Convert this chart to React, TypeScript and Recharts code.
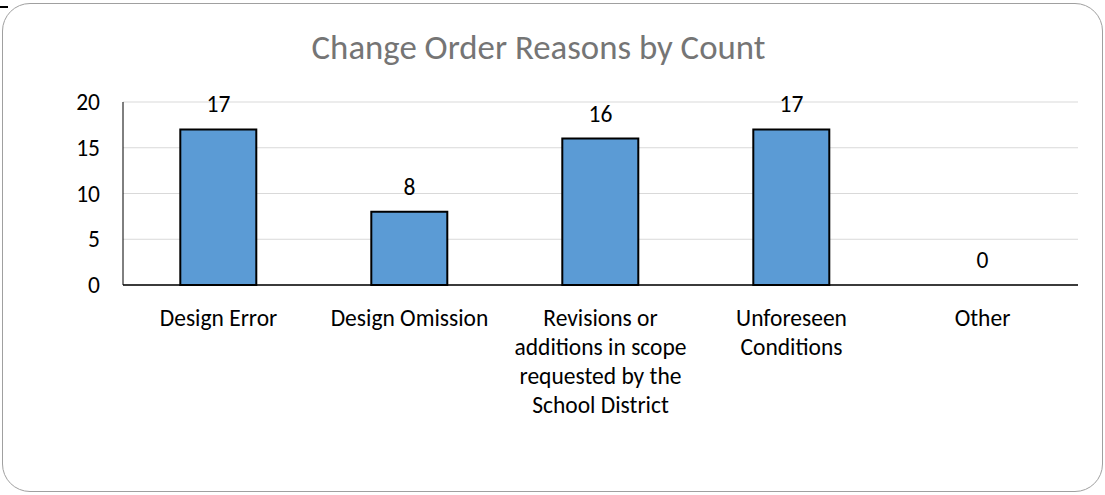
import React from "react";
import { ComposedChart, Bar, Line, XAxis, YAxis, CartesianGrid, LabelList } from "recharts";

const categories = [
  "Design Error",
  "Design Omission",
  "Revisions or additions in scope requested by the School District",
  "Unforeseen Conditions",
  "Other",
];
const counts = [17, 8, 16, 17, 0];
const tickLabelLines = [
  ["Design Error"],
  ["Design Omission"],
  ["Revisions or", "additions in scope", "requested by the", "School District"],
  ["Unforeseen", "Conditions"],
  ["Other"],
];
const yTicks = [0, 5, 10, 15, 20];
const title = "Change Order Reasons by Count";

const data = categories.map((c, i) => ({ name: c, value: counts[i], idx: i }));

const FONT = "Calibri, Carlito, Lato, sans-serif";
const TICK_SIZE = 23.5;

const XTick = (props: any) => {
  const { x, payload } = props;
  const lines = tickLabelLines[payload.index] || [String(payload.value)];
  return (
    <g>
      {lines.map((l: string, i: number) => (
        <text
          key={i}
          x={x}
          y={318 + i * 29}
          textAnchor="middle"
          dominantBaseline="central"
          fontSize={TICK_SIZE}
          fontFamily={FONT}
          fill="#000"
        >
          {l}
        </text>
      ))}
    </g>
  );
};

const YTick = (props: any) => {
  const { y, payload } = props;
  return (
    <text
      x={100}
      y={y}
      textAnchor="end"
      dominantBaseline="central"
      fontSize={TICK_SIZE}
      fontFamily={FONT}
      fill="#000"
    >
      {payload.value}
    </text>
  );
};

const ValueLabel = (props: any) => {
  const { x, y, value } = props;
  return (
    <text
      x={x}
      y={y - 25}
      textAnchor="middle"
      dominantBaseline="central"
      fontSize={TICK_SIZE}
      fontFamily={FONT}
      fill="#000"
    >
      {value}
    </text>
  );
};

export default function App() {
  return (
    <div
      style={{
        position: "absolute",
        left: 0,
        top: 0,
        width: 1105,
        height: 495,
        background: "#fff",
        overflow: "hidden",
        fontFamily: FONT,
      }}
    >
      <div
        style={{
          position: "absolute",
          left: 2,
          top: 3,
          width: 1099,
          height: 487,
          border: "1.5px solid #a0a0a0",
          borderRadius: 28,
        }}
      />
      <div
        style={{
          position: "absolute",
          left: 0,
          top: 6,
          width: 8,
          height: 2,
          background: "#000",
        }}
      />
      <div
        style={{
          position: "absolute",
          left: 0,
          width: 1077,
          top: 26,
          textAlign: "center",
          fontSize: 34.8,
          color: "#757575",
          lineHeight: "42px",
          fontFamily: FONT,
        }}
      >
        {title}
      </div>
      <div style={{ position: "absolute", left: 0, top: 0 }}>
        <ComposedChart
          width={1105}
          height={495}
          data={data}
          margin={{ top: 102, right: 27, bottom: 0, left: 0 }}
          barCategoryGap="30%"
        >
          <CartesianGrid vertical={false} stroke="#d9d9d9" strokeWidth={1} />
          <XAxis
            dataKey="name"
            height={210}
            interval={0}
            tickLine={false}
            axisLine={{ stroke: "#000", strokeWidth: 1.5 }}
            tick={<XTick />}
          />
          <YAxis
            width={123}
            domain={[0, 20]}
            ticks={yTicks}
            interval={0}
            tickLine={false}
            axisLine={{ stroke: "#000", strokeWidth: 1 }}
            tick={<YTick />}
          />
          <Bar
            dataKey="value"
            fill="#5b9bd5"
            stroke="#000"
            strokeWidth={2}
            isAnimationActive={false}
          />
          <Line
            dataKey="value"
            stroke="none"
            dot={false}
            activeDot={false}
            legendType="none"
            isAnimationActive={false}
          >
            <LabelList dataKey="value" content={<ValueLabel />} />
          </Line>
        </ComposedChart>
      </div>
    </div>
  );
}
